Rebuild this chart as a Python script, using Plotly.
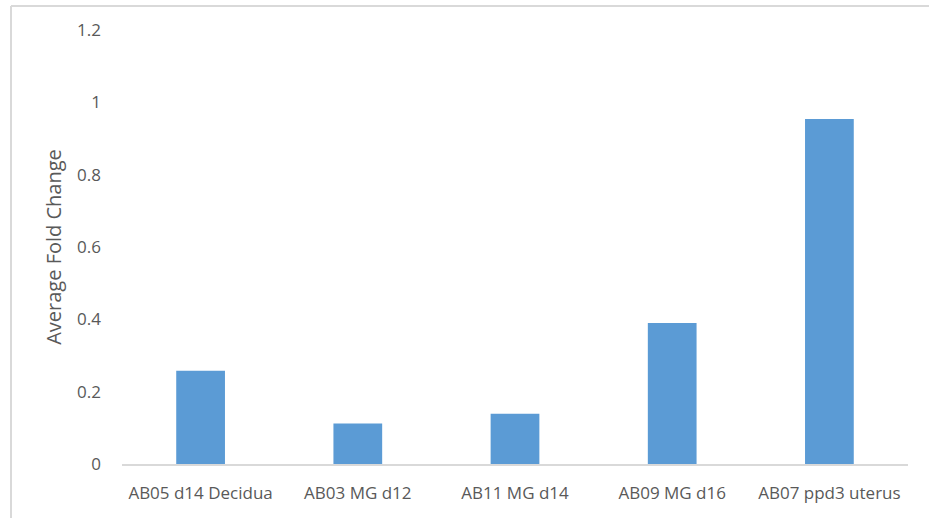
import plotly.graph_objects as go

# Sample groups and their average fold change
samples = ["AB05 d14 Decidua", "AB03 MG d12", "AB11 MG d14", "AB09 MG d16", "AB07 ppd3 uterus"]
fold_change = [0.258, 0.112, 0.139, 0.390, 0.954]

y_ticks = [0, 0.2, 0.4, 0.6, 0.8, 1, 1.2]
y_tick_text = ["0", "0.2", "0.4", "0.6", "0.8", "1", "1.2"]

BAR_COLOR = "#5B9BD5"
TEXT_COLOR = "#595959"
FONT = "Open Sans, Liberation Sans, sans-serif"

fig = go.Figure(
    go.Bar(
        x=samples,
        y=fold_change,
        marker=dict(color=BAR_COLOR, line=dict(width=0)),
    )
)

W, H = 929, 518
ml, mr, mt, mb = 122, 21, 30, 54
pw = W - ml - mr
ph = H - mt - mb


def px_x(p):
    return (p - ml) / pw


def px_y(p):
    return 1 - (p - mt) / ph


fig.update_layout(
    width=W,
    height=H,
    margin=dict(l=ml, r=mr, t=mt, b=mb),
    paper_bgcolor="white",
    plot_bgcolor="white",
    bargap=0.69,
    showlegend=False,
    font=dict(family=FONT, size=17, color=TEXT_COLOR),
    xaxis=dict(
        showgrid=False,
        showline=True,
        linecolor="#D9D9D9",
        linewidth=1.5,
        ticks="",
        ticklabelstandoff=13,
        tickfont=dict(size=17, color=TEXT_COLOR),
    ),
    yaxis=dict(
        range=[0, 1.2],
        tickvals=y_ticks,
        ticktext=y_tick_text,
        showgrid=False,
        zeroline=False,
        showline=False,
        ticks="",
        ticklabelstandoff=20,
        tickfont=dict(size=17, color=TEXT_COLOR),
        title=dict(text="Average Fold Change", standoff=10,
                   font=dict(size=20, color=TEXT_COLOR)),
    ),
    # chart-area frame along the top and left edges
    shapes=[
        dict(type="line", xref="paper", yref="paper",
             x0=px_x(11), x1=px_x(W + 5), y0=px_y(6), y1=px_y(6),
             line=dict(color="#D9D9D9", width=2)),
        dict(type="line", xref="paper", yref="paper",
             x0=px_x(11), x1=px_x(11), y0=px_y(6), y1=px_y(H + 5),
             line=dict(color="#D9D9D9", width=2)),
    ],
)

fig.write_html("out.html")
